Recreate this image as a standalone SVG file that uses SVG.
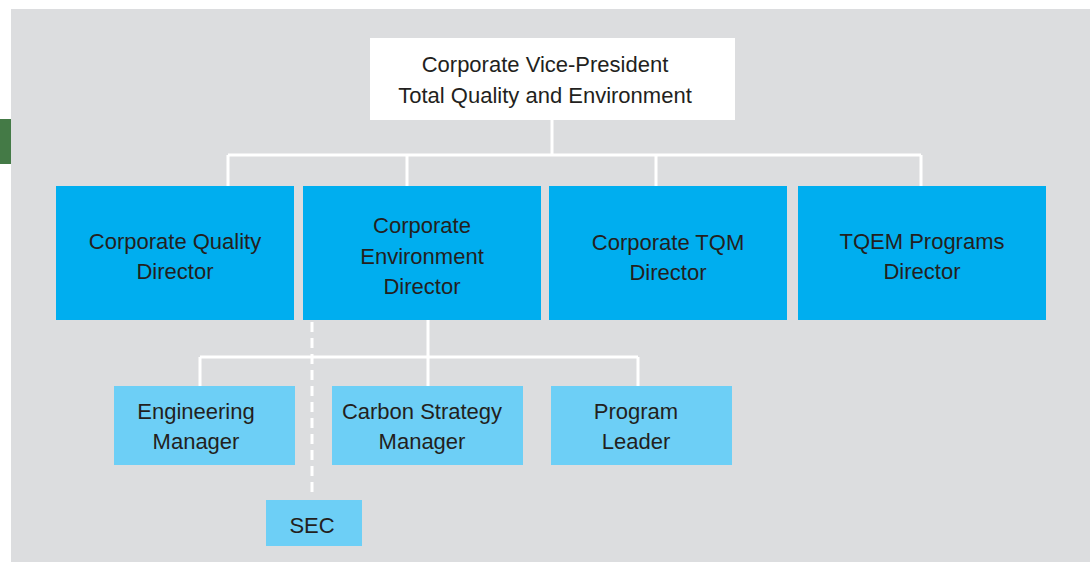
<svg xmlns="http://www.w3.org/2000/svg" width="1090" height="562" viewBox="0 0 1090 562">
  <style>
    .lbl { font-family: "Liberation Sans", Arial, sans-serif; font-size: 22px; fill: #231f20; text-anchor: middle; }
    .top { fill: #ffffff; }
    .dir { fill: #00aeef; }
    .mgr { fill: #6dcff6; }
    .wire { stroke: #ffffff; stroke-width: 3; fill: none; }
    .dash { stroke: #ffffff; stroke-width: 3; fill: none; stroke-dasharray: 10 6; }
  </style>
  <rect x="0" y="0" width="1090" height="562" fill="#ffffff"/>
  <rect x="11" y="9" width="1079" height="553" fill="#dcdddf"/>
  <rect x="0" y="119" width="11" height="45" fill="#447a46"/>

  <g id="connectors">
    <path class="wire" d="M552 120 V155 M228 155 H921 M228 155 V186 M407 155 V186 M656 155 V186 M921 155 V186"/>
    <path class="wire" d="M428 320 V357 M200 357 H638 M200 357 V386 M428 357 V386 M638 357 V386"/>
    <path class="dash" d="M312 322 V496"/>
  </g>

  <g id="vp">
    <rect class="top" x="370" y="38" width="365" height="82"/>
    <text class="lbl" x="545" y="72">Corporate Vice-President</text>
    <text class="lbl" x="545" y="103">Total Quality and Environment</text>
  </g>

  <g id="quality">
    <rect class="dir" x="56" y="186" width="238" height="134"/>
    <text class="lbl" x="175" y="249">Corporate Quality</text>
    <text class="lbl" x="175" y="279">Director</text>
  </g>
  <g id="environment">
    <rect class="dir" x="303" y="186" width="238" height="134"/>
    <text class="lbl" x="422" y="233">Corporate</text>
    <text class="lbl" x="422" y="264">Environment</text>
    <text class="lbl" x="422" y="294">Director</text>
  </g>
  <g id="tqm">
    <rect class="dir" x="549" y="186" width="238" height="134"/>
    <text class="lbl" x="668" y="250">Corporate TQM</text>
    <text class="lbl" x="668" y="280">Director</text>
  </g>
  <g id="tqem">
    <rect class="dir" x="798" y="186" width="248" height="134"/>
    <text class="lbl" x="922" y="249">TQEM Programs</text>
    <text class="lbl" x="922" y="279">Director</text>
  </g>

  <g id="engineering">
    <rect class="mgr" x="114" y="386" width="181" height="79"/>
    <text class="lbl" x="196" y="419">Engineering</text>
    <text class="lbl" x="196" y="449">Manager</text>
  </g>
  <g id="carbon">
    <rect class="mgr" x="332" y="386" width="191" height="79"/>
    <text class="lbl" x="422" y="419">Carbon Strategy</text>
    <text class="lbl" x="422" y="449">Manager</text>
  </g>
  <g id="program">
    <rect class="mgr" x="551" y="386" width="181" height="79"/>
    <text class="lbl" x="636" y="419">Program</text>
    <text class="lbl" x="636" y="449">Leader</text>
  </g>
  <g id="sec">
    <rect class="mgr" x="266" y="500" width="96" height="46"/>
    <text class="lbl" x="312" y="533">SEC</text>
  </g>
</svg>
